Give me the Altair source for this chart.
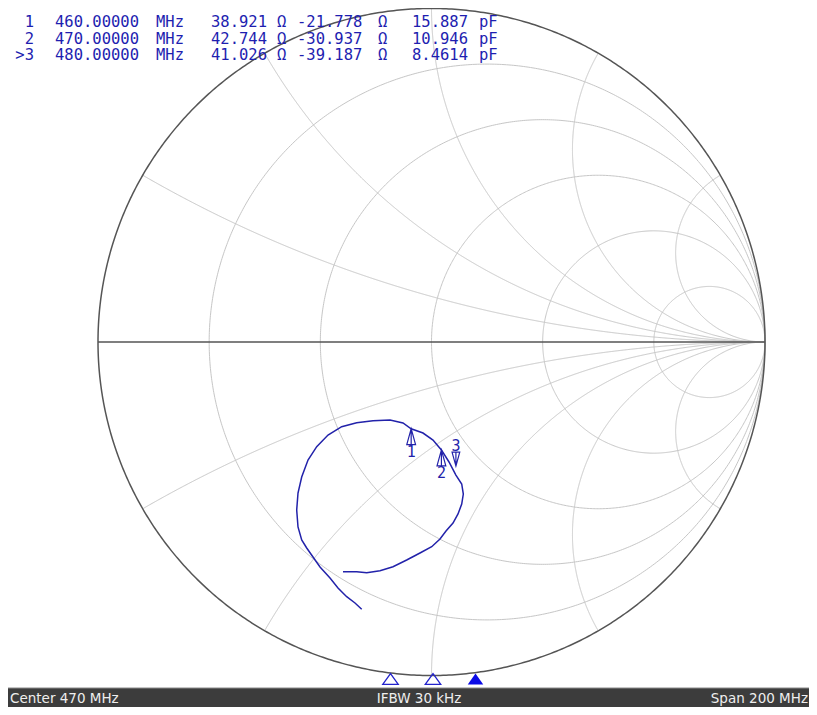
import altair as alt
import numpy as np
import pandas as pd

# ---------------- data ----------------
# Measured trace as reflection coefficient (real, imag), from start (370 MHz) to stop (570 MHz)
trace_re = [-0.2093, -0.2294, -0.2543, -0.2804, -0.3043, -0.3343, -0.3553, -0.3742, -0.3892, -0.4003,
            -0.4042, -0.4003, -0.3892, -0.3703, -0.3442, -0.3103, -0.2693, -0.2243, -0.1754, -0.1244,
            -0.0855, -0.0611, -0.0255, 0.0045, 0.0195, 0.0298, 0.0525, 0.0732, 0.0906, 0.0954,
            0.0906, 0.0795, 0.0645, 0.0435, 0.0255, 0.0006, -0.0345, -0.0744, -0.1154, -0.1544,
            -0.1943, -0.2243, -0.2654]
trace_im = [-0.8015, -0.7826, -0.7637, -0.7376, -0.7076, -0.6747, -0.6447, -0.6177, -0.5937, -0.5547,
            -0.5037, -0.4528, -0.4048, -0.3538, -0.3139, -0.2789, -0.2540, -0.2420, -0.2360, -0.2339,
            -0.2429, -0.2602, -0.2729, -0.2939, -0.3118, -0.3237, -0.3598, -0.3990, -0.4258, -0.4558,
            -0.4858, -0.5157, -0.5427, -0.5667, -0.5907, -0.6138, -0.6327, -0.6537, -0.6738, -0.6858,
            -0.6918, -0.6888, -0.6888]

# Marker readout
marker_ids = ["1", "2", "3"]
marker_freq_mhz = [460, 470, 480]
marker_r_ohm = [38.921, 42.744, 41.026]
marker_x_ohm = [-21.778, -30.937, -39.187]
marker_c_pf = ["15.887", "10.946", "8.4614"]
marker_active = [False, False, True]
z0 = 50.0

# Smith chart grid values
grid_r = [0.2, 0.5, 1, 2, 5]
grid_x = [0.268, 0.577, 1, 1.732, 3.732]

# Status bar
center_mhz = 470
span_mhz = 200
ifbw_text = "IFBW 30 kHz"

# ---------------- layout ----------------
W, H = 801, 699
XS = alt.Scale(domain=[-1, 1], range=[90, 757])
YS = alt.Scale(domain=[-1, 1], range=[667.5, 0.5])
FS = alt.Scale(domain=[center_mhz - span_mhz / 2, center_mhz + span_mhz / 2], range=[0, 850])
BLUE = "#2222aa"
TXT_BLUE = "#1e1eb0"

# ---------------- grid geometry ----------------
rows = []
gid = 0
t = np.linspace(0, 2 * np.pi, 721)
for r in grid_r:
    c, rad = r / (1 + r), 1 / (1 + r)
    for i, tt in enumerate(t):
        rows.append((gid, i, c + rad * np.cos(tt), rad * np.sin(tt)))
    gid += 1
u = np.linspace(0, np.pi / 2 - 1e-5, 900)
rr = np.tan(u)
for xv in grid_x:
    for sgn in (1, -1):
        z = rr + 1j * sgn * xv
        g = (z - 1) / (z + 1)
        for i, gg in enumerate(g):
            rows.append((gid, i, gg.real, gg.imag))
        gid += 1
grid_df = pd.DataFrame(rows, columns=["gid", "ord", "gx", "gy"])

outer_df = pd.DataFrame({"ord": np.arange(len(t)), "gx": np.cos(t), "gy": np.sin(t)})
axis_df = pd.DataFrame({"ord": [0, 1], "gx": [-1.0, 1.0], "gy": [0.0, 0.0]})

trace_df = pd.DataFrame({"idx": range(len(trace_re)), "gx": trace_re, "gy": trace_im})

mk_z = [(r + 1j * x) / z0 for r, x in zip(marker_r_ohm, marker_x_ohm)]
mk_g = [(z - 1) / (z + 1) for z in mk_z]
mk_df = pd.DataFrame({
    "id": marker_ids,
    "freq": marker_freq_mhz,
    "gx": [g.real for g in mk_g],
    "gy": [g.imag for g in mk_g],
    "active": marker_active,
})

# Readout table: one text per column, left edges in view pixels (layout only)
col_x = {"f": 47, "fu": 148, "r": 203, "ru": 269, "x": 289, "xu": 370, "c": 404, "cu": 471}
read_rows = []
id_rows = []
for k in range(len(marker_ids)):
    id_rows.append({"row": k, "txt": (">" if marker_active[k] else "") + marker_ids[k]})
    cells = {
        "f": f"{marker_freq_mhz[k]:.5f}", "fu": "MHz",
        "r": f"{marker_r_ohm[k]:.3f}", "ru": "Ω",
        "x": f"{marker_x_ohm[k]:.3f}", "xu": "Ω",
        "c": marker_c_pf[k], "cu": "pF",
    }
    for key, txt in cells.items():
        read_rows.append({"row": k, "px": col_x[key], "txt": txt})
read_df = pd.DataFrame(read_rows)
id_df = pd.DataFrame(id_rows)

one = pd.DataFrame({"a": [0]})


def gx():
    return alt.X("gx:Q", scale=XS, axis=None)


def gy():
    return alt.Y("gy:Q", scale=YS, axis=None)


ROWY = alt.Scale(domain=[0, 2], range=[19, 52])

grid = alt.Chart(grid_df).mark_line(color="#c6c6c6", strokeWidth=1).encode(
    x=gx(), y=gy(), detail="gid:N", order="ord:Q")
outer = alt.Chart(outer_df).mark_line(color="#555555", strokeWidth=1.5).encode(
    x=gx(), y=gy(), order="ord:Q")
axis_line = alt.Chart(axis_df).mark_line(color="#555555", strokeWidth=1.6).encode(
    x=gx(), y=gy(), order="ord:Q")
trace = alt.Chart(trace_df).mark_line(color=BLUE, strokeWidth=1.5).encode(
    x=gx(), y=gy(), order="idx:Q")

tri_up = "M0,-1L0.55,1L-0.55,1Z M0,-1L0,1"
tri_down = "M0,1L0.55,-1L-0.55,-1Z M0,1L0,-1"
mk_inactive = alt.Chart(mk_df).transform_filter("!datum.active").mark_point(
    shape=tri_up, size=256, filled=False, color=BLUE, strokeWidth=1.2, yOffset=8, opacity=1).encode(
    x=gx(), y=gy())
mk_act = alt.Chart(mk_df).transform_filter("datum.active").mark_point(
    shape=tri_down, size=196, filled=False, color=BLUE, strokeWidth=1.2, yOffset=-16, opacity=1).encode(
    x=gx(), y=gy())
lab_inactive = alt.Chart(mk_df).transform_filter("!datum.active").mark_text(
    font="DejaVu Sans Mono", fontSize=15, color=BLUE, dy=23, baseline="middle").encode(
    x=gx(), y=gy(), text="id:N")
lab_act = alt.Chart(mk_df).transform_filter("datum.active").mark_text(
    font="DejaVu Sans Mono", fontSize=15, color=BLUE, dy=-29, baseline="middle").encode(
    x=gx(), y=gy(), text="id:N")

readout = alt.Chart(read_df).mark_text(
    font="DejaVu Sans Mono", fontSize=15.5, color=TXT_BLUE, align="left", baseline="alphabetic").encode(
    x=alt.X("px:Q", scale=alt.Scale(domain=[0, W], range=[0, W]), axis=None),
    y=alt.Y("row:Q", scale=ROWY, axis=None),
    text="txt:N")
readout_id = alt.Chart(id_df).mark_text(
    font="DejaVu Sans Mono", fontSize=15.5, color=TXT_BLUE, align="right", baseline="alphabetic").encode(
    x=alt.value(26),
    y=alt.Y("row:Q", scale=ROWY, axis=None),
    text="txt:N")

tri_b = "M0,-0.7L1,0.7L-1,0.7Z"
bot_open = alt.Chart(mk_df).transform_filter("!datum.active").mark_point(
    shape=tri_b, size=240, filled=False, color="#2222cc", strokeWidth=1.3, opacity=1).encode(
    x=alt.X("freq:Q", scale=FS, axis=None), y=alt.value(671))
bot_fill = alt.Chart(mk_df).transform_filter("datum.active").mark_point(
    shape=tri_b, size=240, filled=True, color="#0a0ae6", opacity=1).encode(
    x=alt.X("freq:Q", scale=FS, axis=None), y=alt.value(671))

bar = alt.Chart(one).mark_rect(color="#3c3c3c").encode(
    x=alt.value(0), x2=alt.value(W), y=alt.value(680), y2=alt.value(H))
bar_line = alt.Chart(one).mark_rule(color="#8a8a8a", strokeWidth=1).encode(
    x=alt.value(0), x2=alt.value(W), y=alt.value(680))
st_left = alt.Chart(one).mark_text(text=f"Center {center_mhz} MHz", font="DejaVu Sans", fontSize=13.5,
                                   color="#eeeeee", align="left", baseline="alphabetic").encode(
    x=alt.value(2), y=alt.value(695))
st_mid = alt.Chart(one).mark_text(text=ifbw_text, font="DejaVu Sans", fontSize=13.5,
                                  color="#eeeeee", align="center", baseline="alphabetic").encode(
    x=alt.value(411), y=alt.value(695))
st_right = alt.Chart(one).mark_text(text=f"Span {span_mhz} MHz", font="DejaVu Sans", fontSize=13.5,
                                    color="#eeeeee", align="right", baseline="alphabetic").encode(
    x=alt.value(W - 1), y=alt.value(695))

chart = alt.layer(
    grid, outer, axis_line, trace, mk_inactive, mk_act, lab_inactive, lab_act, readout, readout_id,
    bot_open, bot_fill, bar, bar_line, st_left, st_mid, st_right
).resolve_scale(x="independent", y="independent").properties(
    width=W, height=H, padding=0, autosize=alt.AutoSizeParams(type="none"), background="white"
).configure_view(stroke=None)

chart.save("out.html", embed_options={"renderer": "svg", "actions": False})
